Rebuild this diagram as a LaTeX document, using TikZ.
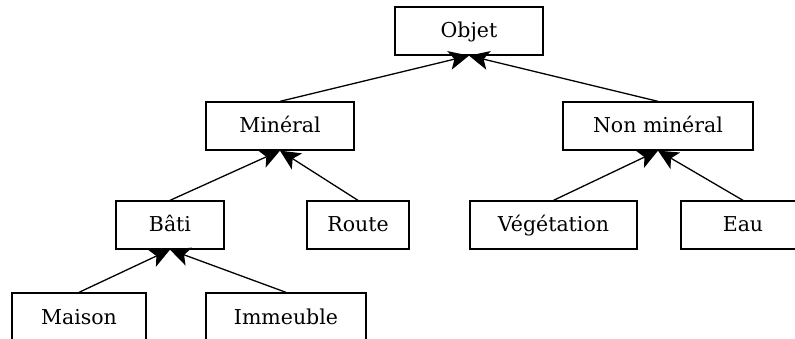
\documentclass[tikz,border=0pt]{standalone}
\usepackage{fontspec}
\setmainfont{DejaVu Serif}
\usepackage{tikz}
\usetikzlibrary{arrows.meta}

\begin{document}
\begin{tikzpicture}[x = 1pt, y = -1pt,
	box/.style = {draw, line width = 1.3pt, rectangle, minimum height = 48pt, inner sep = 0pt, text height = 16pt, text depth = 2pt, font = \fontsize{20.5}{24}\selectfont},
	link/.style = {line width = 1.3pt, -{Stealth[length = 20pt, width = 19pt, inset = 5pt]}}]
	\clip (0,0) rectangle (795,339);
	\node[box, minimum width = 148pt] (objet) at (469,31) {Objet}; %0
	\node[box, minimum width = 148pt] (mineral) at (280,126) {Minéral}; %1
	\node[box, minimum width = 190pt] (nonmineral) at (658,126) {Non minéral}; %1
	\node[box, minimum width = 108pt] (bati) at (170,225) {Bâti}; %2
	\node[box, minimum width = 102pt] (route) at (358,225) {Route}; %2
	\node[box, minimum width = 167pt] (vegetation) at (553.5,225) {Végétation}; %2
	\node[box, minimum width = 124pt] (eau) at (743,225) {Eau}; %2
	\node[box, minimum width = 134pt] (maison) at (79,317) {Maison}; %3
	\node[box, minimum width = 160pt] (immeuble) at (286,317) {Immeuble}; %3
	\draw[link] (mineral.north) -- (objet.south);
	\draw[link] (nonmineral.north) -- (objet.south);
	\draw[link] (bati.north) -- (mineral.south);
	\draw[link] (route.north) -- (mineral.south);
	\draw[link] (vegetation.north) -- (nonmineral.south);
	\draw[link] (eau.north) -- (nonmineral.south);
	\draw[link] (maison.north) -- (bati.south);
	\draw[link] (immeuble.north) -- (bati.south);
\end{tikzpicture}
\end{document}
